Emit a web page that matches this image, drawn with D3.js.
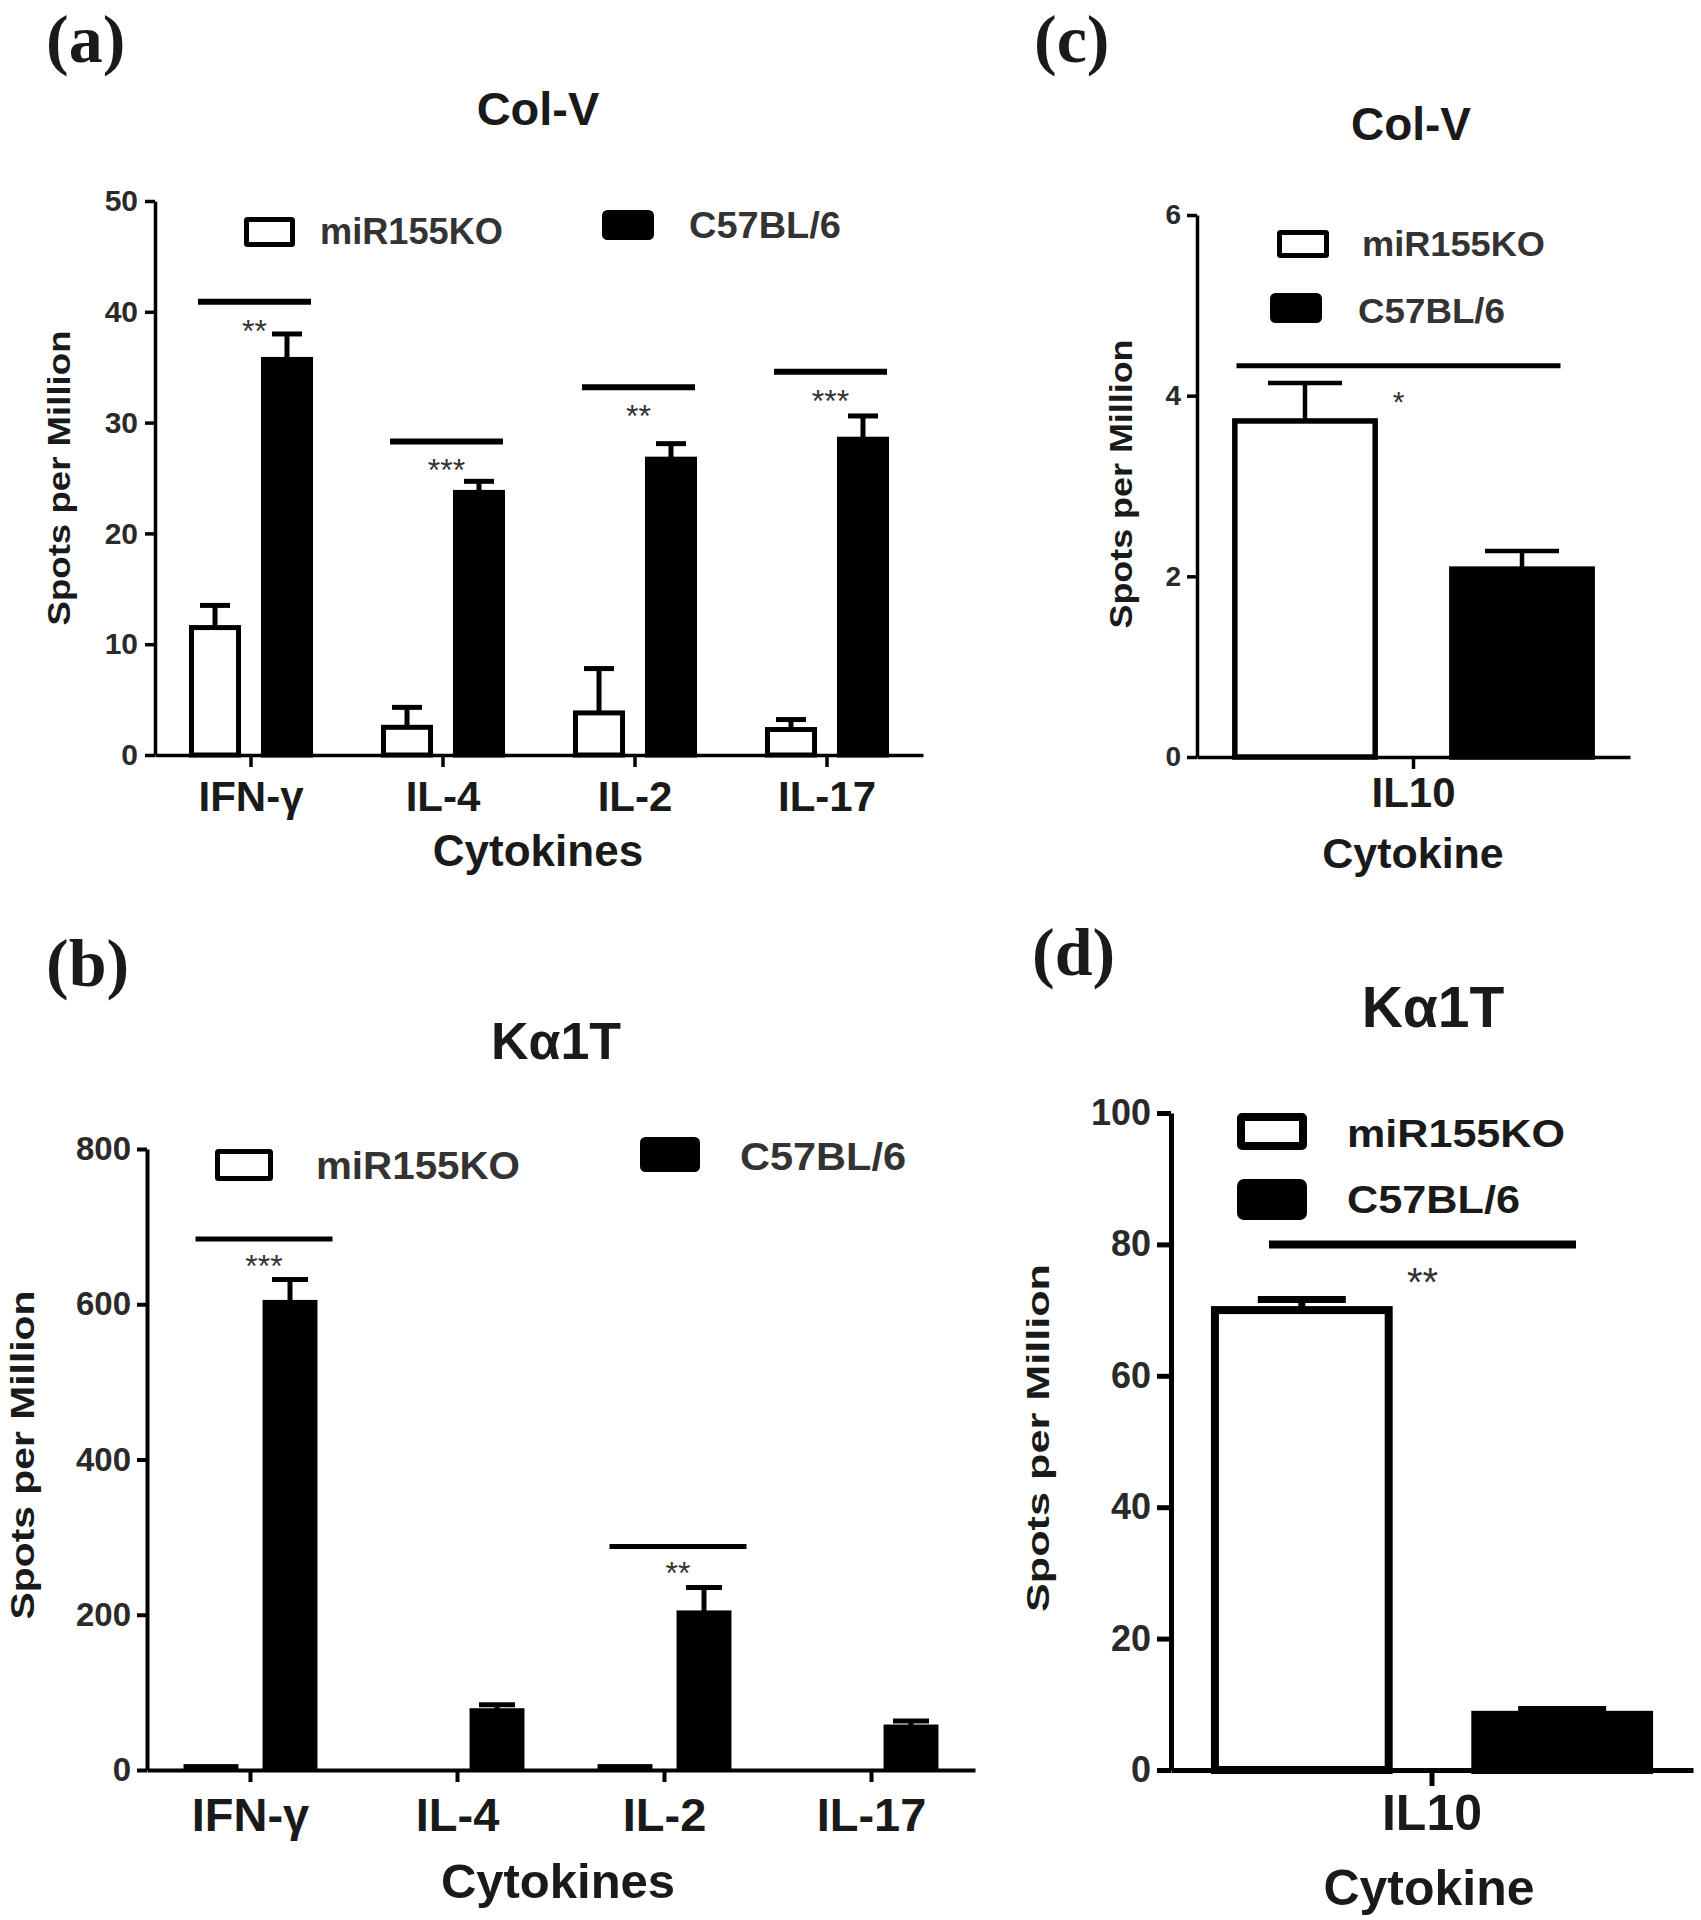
<!DOCTYPE html>
<html><head><meta charset="utf-8">
<script src="https://cdn.jsdelivr.net/npm/d3@7"></script>
<style>
body{margin:0;background:#fff}
svg{display:block}
</style>
</head><body>
<svg id="chart" width="1701" height="1920"></svg>
<script>
// ---------------- DATA ----------------
const cytokines = ["IFN-γ", "IL-4", "IL-2", "IL-17"];
const groups = ["miR155KO", "C57BL/6"];

// (a) Col-V, Th cytokines
const colVMiR155KO = [11.5, 2.5, 3.8, 2.3];
const colVMiR155KOSem = [2.0, 1.8, 4.0, 0.9];
const colVC57BL6 = [35.7, 23.7, 26.7, 28.5];
const colVC57BL6Sem = [2.3, 1.0, 1.4, 2.1];
const colVSigLabels = ["**", "***", "**", "***"];
const colVSigLevels = [40.9, 28.3, 33.2, 34.6];
const colVTicks = [0, 10, 20, 30, 40, 50];

// (b) Kα1T, Th cytokines
const ka1tMiR155KO = [5, 0, 5, 0];
const ka1tMiR155KOSem = [0, 0, 0, 0];
const ka1tC57BL6 = [603, 77, 203, 56];
const ka1tC57BL6Sem = [29, 7, 32, 7];
const ka1tSigLabels = ["***", "", "**", ""];
const ka1tSigLevels = [684, null, 288, null];
const ka1tTicks = [0, 200, 400, 600, 800];

// (c) Col-V, IL10
const il10Category = ["IL10"];
const il10ColVMiR155KO = [3.72];
const il10ColVMiR155KOSem = [0.42];
const il10ColVC57BL6 = [2.08];
const il10ColVC57BL6Sem = [0.20];
const il10ColVSigLabels = ["*"];
const il10ColVSigLevels = [4.33];
const il10ColVTicks = [0, 2, 4, 6];

// (d) Kα1T, IL10
const il10Ka1tMiR155KO = [70.0];
const il10Ka1tMiR155KOSem = [1.6];
const il10Ka1tC57BL6 = [8.4];
const il10Ka1tC57BL6Sem = [0.8];
const il10Ka1tSigLabels = ["**"];
const il10Ka1tSigLevels = [80.0];
const il10Ka1tTicks = [0, 20, 40, 60, 80, 100];

// ---------------- LAYOUT ----------------
const SANS = '"Liberation Sans", Arial, Helvetica, sans-serif';
const SERIF = '"Liberation Serif", "Times New Roman", serif';
const svg = d3.select("#chart").style("font-family", SANS);

const panels = [
  { cats: cytokines, ko: colVMiR155KO, koSem: colVMiR155KOSem, wt: colVC57BL6, wtSem: colVC57BL6Sem,
    sigLabels: colVSigLabels, sigLevels: colVSigLevels, ticks: colVTicks,
    axisX: 155, axisEnd: 923, y0: 755, yTop: 201, padGroup: 0.354, padBars: 0.277,
    axisW: 3.5, barStroke: 5, errW: 5, capW: 30, yTickLen: 10, yTickPad: 7, yTickFont: 30,
    xTickLen: 12, xTickPad: 14, xTickFont: 42,
    sigL: -53, sigR: 60, sigW: 6, sigFont: 32, sigDy: 40,
    legend: [[244, 217, 51, 30, 320, 231, 183], [602, 210, 52, 30, 689, 225, 152]], legendFont: 36, legendStroke: 5, legendFill: "#333",
    label: "(a)", labelX: 46, labelY: 62, labelFont: 68,
    title: "Col-V", titleX: 538, titleY: 125, titleFont: 47,
    yTitleX: 70, yTitleY: 478, yTitleFont: 32, yTitleLen: 295,
    xTitle: "Cytokines", xTitleX: 538, xTitleY: 866, xTitleFont: 44 },
  { cats: cytokines, ko: ka1tMiR155KO, koSem: ka1tMiR155KOSem, wt: ka1tC57BL6, wtSem: ka1tC57BL6Sem,
    sigLabels: ka1tSigLabels, sigLevels: ka1tSigLevels, ticks: ka1tTicks,
    axisX: 147, axisEnd: 975, y0: 1770, yTop: 1149, padGroup: 0.353, padBars: 0.305,
    axisW: 4, barStroke: 4, errW: 5, capW: 36, yTickLen: 10, yTickPad: 6, yTickFont: 33,
    xTickLen: 12, xTickPad: 16, xTickFont: 47,
    sigL: -55, sigR: 82, sigW: 5, sigFont: 32, sigDy: 38,
    legend: [[215, 1149, 58, 32, 316, 1165, 204], [640, 1137, 60, 35, 740, 1156, 166]], legendFont: 38, legendStroke: 5, legendFill: "#333",
    label: "(b)", labelX: 46, labelY: 986, labelFont: 68,
    title: "Kα1T", titleX: 556, titleY: 1059, titleFont: 52,
    yTitleX: 34, yTitleY: 1455, yTitleFont: 33, yTitleLen: 329,
    xTitle: "Cytokines", xTitleX: 558, xTitleY: 1898, xTitleFont: 49 },
  { cats: il10Category, ko: il10ColVMiR155KO, koSem: il10ColVMiR155KOSem, wt: il10ColVC57BL6, wtSem: il10ColVC57BL6Sem,
    sigLabels: il10ColVSigLabels, sigLevels: il10ColVSigLevels, ticks: il10ColVTicks,
    axisX: 1197, axisEnd: 1630, y0: 757, yTop: 215, padGroup: 0.162, padBars: 0.328,
    axisW: 3.5, barStroke: 5.5, errW: 4.5, capW: 74, yTickLen: 10, yTickPad: 6, yTickFont: 28,
    xTickLen: 12, xTickPad: 8, xTickFont: 42,
    sigL: -177, sigR: 147, sigW: 5, sigFont: 30, sigDy: 46,
    legend: [[1277, 230, 52, 28, 1362, 243, 183], [1270, 293, 52, 30, 1358, 310, 147]], legendFont: 35, legendStroke: 5, legendFill: "#333",
    label: "(c)", labelX: 1034, labelY: 62, labelFont: 68,
    title: "Col-V", titleX: 1411, titleY: 140, titleFont: 46,
    yTitleX: 1132, yTitleY: 484, yTitleFont: 31, yTitleLen: 289,
    xTitle: "Cytokine", xTitleX: 1413, xTitleY: 868, xTitleFont: 43 },
  { cats: il10Category, ko: il10Ka1tMiR155KO, koSem: il10Ka1tMiR155KOSem, wt: il10Ka1tC57BL6, wtSem: il10Ka1tC57BL6Sem,
    sigLabels: il10Ka1tSigLabels, sigLevels: il10Ka1tSigLevels, ticks: il10Ka1tTicks,
    axisX: 1171, axisEnd: 1693, y0: 1770, yTop: 1113, padGroup: 0.153, padBars: 0.302,
    axisW: 5, barStroke: 8, errW: 7, capW: 88, yTickLen: 14, yTickPad: 6, yTickFont: 36,
    xTickLen: 16, xTickPad: 8, xTickFont: 50,
    sigL: -163, sigR: 144, sigW: 8, sigFont: 40, sigDy: 52,
    legend: [[1237, 1113, 70, 37, 1347, 1133, 218], [1237, 1179, 70, 41, 1347, 1199, 173]], legendFont: 38, legendStroke: 8, legendFill: "#1a1a1a",
    label: "(d)", labelX: 1032, labelY: 975, labelFont: 68,
    title: "Kα1T", titleX: 1433, titleY: 1027, titleFont: 57,
    yTitleX: 1049, yTitleY: 1438, yTitleFont: 32, yTitleLen: 348,
    xTitle: "Cytokine", xTitleX: 1429, xTitleY: 1905, xTitleFont: 50 }
];

function drawPanel(P) {
  const g = svg.append("g");
  const x0 = d3.scaleBand().domain(P.cats).range([P.axisX, P.axisEnd])
    .paddingInner(P.padGroup).paddingOuter(P.padGroup / 2);
  const x1 = d3.scaleBand().domain(groups).range([0, x0.bandwidth()]).paddingInner(P.padBars);
  const y = d3.scaleLinear().domain([0, d3.max(P.ticks)]).range([P.y0, P.yTop]);

  const bars = P.cats.flatMap((c, i) => groups.map((k, j) => ({
    cat: c, key: k, v: j === 0 ? P.ko[i] : P.wt[i], e: j === 0 ? P.koSem[i] : P.wtSem[i]
  })));

  // error bars (upper only)
  const eg = g.append("g").attr("stroke", "#000").attr("stroke-width", P.errW);
  bars.filter(d => d.e > 0).forEach(d => {
    const cx = x0(d.cat) + x1(d.key) + x1.bandwidth() / 2;
    eg.append("line").attr("x1", cx).attr("x2", cx).attr("y1", y(d.v)).attr("y2", y(d.v + d.e));
    eg.append("line").attr("x1", cx - P.capW / 2).attr("x2", cx + P.capW / 2)
      .attr("y1", y(d.v + d.e)).attr("y2", y(d.v + d.e));
  });

  // bars
  g.append("g").selectAll("rect").data(bars).join("rect")
    .attr("x", d => x0(d.cat) + x1(d.key) + P.barStroke / 2)
    .attr("width", x1.bandwidth() - P.barStroke)
    .attr("y", d => y(d.v))
    .attr("height", d => y(0) - y(d.v))
    .attr("fill", d => d.key === groups[0] ? "#fff" : "#000")
    .attr("stroke", "#000")
    .attr("stroke-width", d => d.v > 0 ? P.barStroke : 0);

  // axes
  const yAx = d3.axisLeft(y).tickValues(P.ticks).tickSize(P.yTickLen).tickSizeOuter(0)
    .tickPadding(P.yTickPad).tickFormat(d3.format("d"));
  g.append("g").attr("transform", `translate(${P.axisX},0)`).call(yAx).call(s => {
    s.attr("font-family", SANS);
    s.select(".domain").attr("stroke", "#000").attr("stroke-width", P.axisW);
    s.selectAll(".tick line").attr("stroke", "#000").attr("stroke-width", P.axisW);
    s.selectAll(".tick text").attr("font-size", P.yTickFont).attr("font-weight", "bold")
      .attr("fill", "#2a2a2a");
  });
  const xAx = d3.axisBottom(x0).tickSize(P.xTickLen).tickSizeOuter(0).tickPadding(P.xTickPad);
  g.append("g").attr("transform", `translate(0,${P.y0})`).call(xAx).call(s => {
    s.attr("font-family", SANS);
    s.select(".domain").attr("stroke", "#000").attr("stroke-width", P.axisW);
    s.selectAll(".tick line").attr("stroke", "#000").attr("stroke-width", P.axisW);
    s.selectAll(".tick text").attr("font-size", P.xTickFont).attr("font-weight", "bold")
      .attr("fill", "#1a1a1a");
  });

  // significance
  P.cats.forEach((c, i) => {
    if (!P.sigLabels[i]) return;
    const cc = x0(c) + x0.bandwidth() / 2;
    const yy = y(P.sigLevels[i]);
    g.append("line").attr("x1", cc + P.sigL).attr("x2", cc + P.sigR).attr("y1", yy).attr("y2", yy)
      .attr("stroke", "#000").attr("stroke-width", P.sigW);
    g.append("text").attr("x", cc + (P.sigL + P.sigR) / 2).attr("y", yy + P.sigDy)
      .attr("text-anchor", "middle").attr("font-size", P.sigFont).attr("fill", "#333")
      .text(P.sigLabels[i]);
  });

  // legend
  P.legend.forEach((L, j) => {
    const s = P.legendStroke;
    g.append("rect").attr("x", L[0] + s / 2).attr("y", L[1] + s / 2).attr("width", L[2] - s).attr("height", L[3] - s)
      .attr("fill", j === 0 ? "#fff" : "#000").attr("stroke", "#000").attr("stroke-width", s)
      .attr("rx", j === 0 ? 1 : 3);
    g.append("text").attr("x", L[4]).attr("y", L[5]).attr("dy", "0.36em")
      .attr("font-size", P.legendFont).attr("font-weight", "bold").attr("fill", P.legendFill)
      .attr("textLength", L[6]).attr("lengthAdjust", "spacingAndGlyphs")
      .text(groups[j]);
  });

  // labels
  g.append("text").attr("x", P.labelX).attr("y", P.labelY)
    .style("font-family", SERIF)
    .attr("font-weight", "bold").attr("font-size", P.labelFont).attr("fill", "#1a1a1a").text(P.label);
  g.append("text").attr("x", P.titleX).attr("y", P.titleY).attr("text-anchor", "middle")
    .attr("font-weight", "bold").attr("font-size", P.titleFont).attr("fill", "#1a1a1a").text(P.title);
  g.append("text").attr("transform", `translate(${P.yTitleX},${P.yTitleY}) rotate(-90)`)
    .attr("text-anchor", "middle").attr("font-weight", "bold").attr("font-size", P.yTitleFont)
    .attr("textLength", P.yTitleLen).attr("lengthAdjust", "spacingAndGlyphs")
    .attr("fill", "#1a1a1a").text("Spots per Million");
  g.append("text").attr("x", P.xTitleX).attr("y", P.xTitleY).attr("text-anchor", "middle")
    .attr("font-weight", "bold").attr("font-size", P.xTitleFont).attr("fill", "#1a1a1a").text(P.xTitle);
}

panels.forEach(drawPanel);
</script>
</body></html>
